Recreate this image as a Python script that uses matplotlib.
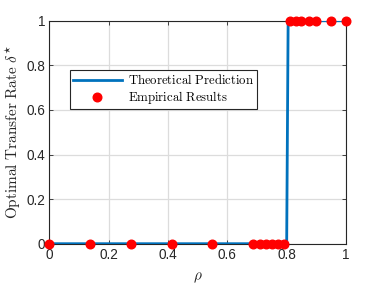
import numpy as np
import matplotlib.pyplot as plt

plt.rcParams['mathtext.fontset'] = 'cm'

# theoretical step curve
rho_th = [0.0, 0.8, 0.805, 1.0]
delta_th = [0, 0, 1, 1]

# empirical points
rho_emp = [0.0, 0.1375, 0.275, 0.4125, 0.55, 0.6875, 0.71, 0.73, 0.75, 0.77, 0.79,
           0.81, 0.83, 0.85, 0.875, 0.9, 0.95, 1.0]
delta_emp = [0]*11 + [1]*7

fig = plt.figure(figsize=(3.82, 2.86), dpi=100)
ax = fig.add_axes([49.3/382, 1-243.7/286, (346-49.3)/382, (243.7-20.7)/286])

ax.plot(rho_th, delta_th, "-", color="#0072BD", lw=2, label=r"$\mathrm{Theoretical\ Prediction}$", zorder=3)
ax.plot(rho_emp, delta_emp, "o", color="red", ms=6.2, label=r"$\mathrm{Empirical\ Results}$",
        linestyle="none", zorder=4, clip_on=False)

ax.set_xlim(0, 1)
ax.set_ylim(0, 1)
ax.set_xticks([0, 0.2, 0.4, 0.6, 0.8, 1])
ax.set_yticks([0, 0.2, 0.4, 0.6, 0.8, 1])
ax.set_xticklabels(["0", "0.2", "0.4", "0.6", "0.8", "1"])
ax.set_yticklabels(["0", "0.2", "0.4", "0.6", "0.8", "1"])
ax.tick_params(direction="in", top=True, right=True, length=3, width=0.6,
               labelsize=9.8, colors="#262626", pad=3)
for t in ax.get_xticklabels() + ax.get_yticklabels():
    t.set_family("Liberation Sans")
for s in ax.spines.values():
    s.set_color("#262626")
    s.set_linewidth(0.8)
ax.grid(True, color="#dcdcdc", lw=0.9)
ax.set_axisbelow(True)

ax.set_xlabel(r"$\rho$", fontsize=11, color="#262626", labelpad=6)
ax.set_ylabel(r"$\mathrm{Optimal\ Transfer\ Rate}\ \delta^{\star}$", fontsize=11, color="#262626", labelpad=2)

leg = ax.legend(loc="upper left", bbox_to_anchor=((70-49.3)/296.7, (243.7-70)/223),
                fontsize=9.2, frameon=True, fancybox=False, framealpha=1,
                edgecolor="#262626", borderpad=0.25, handlelength=3.8, labelspacing=0.15,
                handletextpad=0.5, borderaxespad=0)
leg.get_frame().set_linewidth(0.8)

fig.savefig("out.png", dpi=100)
